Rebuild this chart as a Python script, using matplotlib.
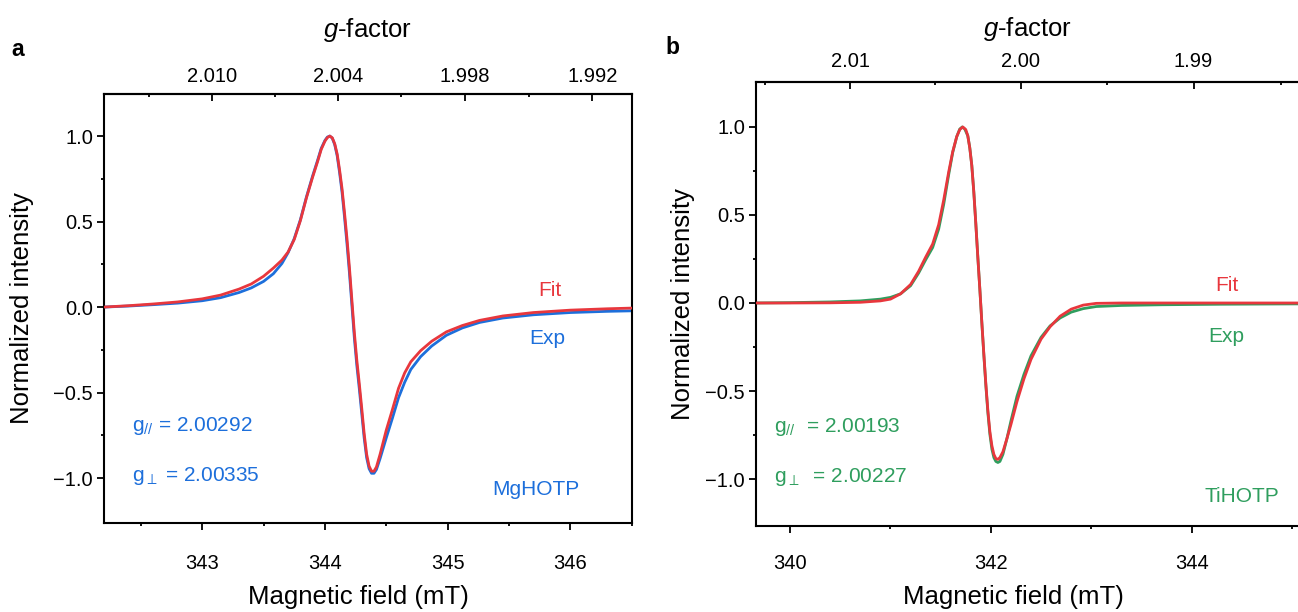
import matplotlib
matplotlib.use("Agg")
import matplotlib.pyplot as plt
from matplotlib.ticker import FixedLocator, FormatStrFormatter, FuncFormatter

plt.rcParams["font.family"] = ["Liberation Sans", "DejaVu Sans"]
plt.rcParams["mathtext.fontset"] = "custom"
plt.rcParams["mathtext.rm"] = "Liberation Sans"
plt.rcParams["mathtext.it"] = "Liberation Sans:italic"

RED = "#E8373D"
BLUE = "#1D6FDB"
GREEN = "#2F9E5E"

# ---- panel a: MgHOTP ----
field_a = [342.20, 342.40, 342.60, 342.80, 343.00, 343.15, 343.30, 343.40, 343.50,
           343.58, 343.65, 343.70, 343.75, 343.80, 343.85, 343.90, 343.94, 343.97,
           344.00, 344.02, 344.04, 344.06, 344.08, 344.10, 344.12, 344.14, 344.16,
           344.18, 344.20, 344.22, 344.24, 344.26, 344.28, 344.30, 344.32, 344.34,
           344.36, 344.38, 344.40, 344.42, 344.45, 344.50, 344.55, 344.60, 344.65,
           344.70, 344.78, 344.87, 344.99, 345.12, 345.26, 345.45, 345.70, 346.00,
           346.30, 346.50]
fit_a = [0.000, 0.008, 0.018, 0.030, 0.048, 0.070, 0.105, 0.135, 0.180,
         0.228, 0.275, 0.322, 0.395, 0.505, 0.640, 0.760, 0.850, 0.922,
         0.970, 0.991, 1.000, 0.990, 0.955, 0.895, 0.800, 0.690, 0.550,
         0.400, 0.230, 0.040, -0.150, -0.310, -0.446, -0.590, -0.740, -0.860,
         -0.930, -0.960, -0.960, -0.935, -0.860, -0.720, -0.600, -0.475, -0.385,
         -0.320, -0.255, -0.200, -0.145, -0.108, -0.078, -0.052, -0.032, -0.018,
         -0.010, -0.006]
exp_a = [0.000, 0.006, 0.014, 0.023, 0.037, 0.055, 0.085, 0.112, 0.150,
         0.195, 0.255, 0.318, 0.400, 0.510, 0.645, 0.767, 0.857, 0.928,
         0.974, 0.994, 1.000, 0.988, 0.950, 0.885, 0.785, 0.670, 0.525,
         0.370, 0.200, 0.010, -0.180, -0.340, -0.475, -0.620, -0.765, -0.880,
         -0.945, -0.972, -0.972, -0.950, -0.885, -0.765, -0.650, -0.530, -0.440,
         -0.365, -0.290, -0.228, -0.165, -0.122, -0.090, -0.064, -0.045, -0.032,
         -0.025, -0.022]

# ---- panel b: TiHOTP ----
field_b_fit = [339.66, 340.00, 340.40, 340.70, 340.90, 341.00, 341.10, 341.20, 341.28,
               341.35, 341.42, 341.48, 341.53, 341.58, 341.62, 341.66, 341.69, 341.72,
               341.75, 341.77, 341.79, 341.81, 341.83, 341.85, 341.87, 341.89, 341.91,
               341.93, 341.95, 341.97, 341.99, 342.01, 342.03, 342.05, 342.07, 342.09,
               342.12, 342.16, 342.20, 342.26, 342.33, 342.40, 342.50, 342.59, 342.69,
               342.80, 342.92, 343.05, 343.30, 345.06]
fit_b = [0.000, 0.000, 0.001, 0.004, 0.012, 0.022, 0.052, 0.105, 0.180,
         0.260, 0.335, 0.445, 0.585, 0.745, 0.860, 0.945, 0.985, 1.000,
         0.985, 0.950, 0.880, 0.780, 0.630, 0.450, 0.260, 0.080, -0.110,
         -0.290, -0.460, -0.610, -0.730, -0.810, -0.860, -0.884, -0.888, -0.878,
         -0.845, -0.770, -0.690, -0.560, -0.430, -0.320, -0.205, -0.135, -0.075,
         -0.035, -0.012, -0.002, 0.000, 0.000]

field_b_exp = [339.66, 340.00, 340.40, 340.70, 340.90, 341.00, 341.10, 341.20, 341.28,
               341.35, 341.42, 341.48, 341.53, 341.58, 341.62, 341.66, 341.69, 341.715,
               341.74, 341.77, 341.79, 341.81, 341.83, 341.85, 341.87, 341.89, 341.91,
               341.93, 341.95, 341.97, 341.99, 342.01, 342.03, 342.05, 342.07, 342.09,
               342.12, 342.16, 342.20, 342.26, 342.33, 342.40, 342.50, 342.59, 342.69,
               342.80, 342.92, 343.05, 343.30, 343.70, 344.30, 345.06]
exp_b = [0.000, 0.002, 0.006, 0.012, 0.022, 0.032, 0.052, 0.098, 0.170,
         0.245, 0.315, 0.420, 0.560, 0.730, 0.855, 0.945, 0.988, 1.000,
         0.988, 0.950, 0.882, 0.782, 0.632, 0.452, 0.262, 0.080, -0.112,
         -0.295, -0.468, -0.622, -0.745, -0.830, -0.878, -0.900, -0.906, -0.900,
         -0.860, -0.770, -0.670, -0.530, -0.405, -0.300, -0.195, -0.130, -0.085,
         -0.052, -0.032, -0.020, -0.014, -0.010, -0.007, -0.005]

# g = C / B (B in mT), constants
C_A = 689.59
C_B = 684.6
g_major_a = [2.010, 2.004, 1.998, 1.992]
g_minor_a = [2.013, 2.007, 2.001, 1.995]
g_major_b = [2.01, 2.00, 1.99]
g_minor_b = [2.015, 2.005, 1.995, 1.985]

W, H = 1298, 612
fig = plt.figure(figsize=(W / 100, H / 100), dpi=100)
ax_a = fig.add_axes([104 / W, 1 - 522.7 / H, 527.7 / W, 428.7 / H])
ax_b = fig.add_axes([756 / W, 1 - 525.7 / H, (W - 756) / W, 444 / H])

TICK_FS = 14.5
LABEL_FS = 18.5


def minus_fmt(v, pos):
    return f"{v:.1f}".replace("-", "\u2212")


def style_axes(ax, xlim, ylim, xmajor, xminor, C, gmajor, gminor, gfmt, bpad, tpad, glpad):
    ax.set_xlim(*xlim)
    ax.set_ylim(*ylim)
    for s in ax.spines.values():
        s.set_linewidth(1.5)
    ax.xaxis.set_major_locator(FixedLocator(xmajor))
    ax.xaxis.set_minor_locator(FixedLocator(xminor))
    ax.yaxis.set_major_locator(FixedLocator([-1.0, -0.5, 0.0, 0.5, 1.0]))
    ax.yaxis.set_minor_locator(FixedLocator([-0.75, -0.25, 0.25, 0.75]))
    ax.yaxis.set_major_formatter(FuncFormatter(minus_fmt))
    ax.tick_params(which="major", direction="out", length=5, width=1.3, labelsize=TICK_FS)
    ax.tick_params(axis="x", which="major", pad=bpad)
    ax.tick_params(axis="y", which="major", pad=3)
    ax.tick_params(which="minor", direction="out", length=2.5, width=1.3)

    # top axis: g-factor of the same field values
    sec = ax.secondary_xaxis("top", functions=(lambda B: C / B, lambda g: C / g))
    sec.spines["top"].set_linewidth(1.5)
    sec.xaxis.set_major_locator(FixedLocator(gmajor))
    sec.xaxis.set_minor_locator(FixedLocator(gminor))
    sec.xaxis.set_major_formatter(FormatStrFormatter(gfmt))
    sec.tick_params(which="major", direction="in", length=5, width=1.3,
                    labelsize=TICK_FS, pad=tpad)
    sec.tick_params(which="minor", direction="in", length=2.5, width=1.3)
    sec.set_xlabel(r"$g$-factor", fontsize=LABEL_FS, labelpad=glpad)

    ax.set_xlabel("Magnetic field (mT)", fontsize=LABEL_FS)
    ax.set_ylabel("Normalized intensity", fontsize=LABEL_FS)
    return sec


sec_a = style_axes(ax_a, (342.2, 346.5), (-1.261, 1.246), [343, 344, 345, 346],
                   [342.5, 343.5, 344.5, 345.5, 346.5], C_A, g_major_a, g_minor_a,
                   "%.3f", 17.5, 6, 21)
sec_b = style_axes(ax_b, (339.66, 345.06), (-1.265, 1.257), [340, 342, 344],
                   [341, 343, 345], C_B, g_major_b, g_minor_b, "%.2f", 15.5, 7.5, 12)
ax_b.spines["right"].set_visible(False)

ax_a.xaxis.set_label_coords((358 - 104) / 527.7, -0.145)
ax_b.xaxis.set_label_coords((1013 - 756) / 542, -0.134)
ax_a.yaxis.set_label_coords(-0.133, 0.5)
ax_b.yaxis.set_label_coords(-0.1125, 0.5)

ax_a.plot(field_a, exp_a, color=BLUE, lw=2.0, zorder=2)
ax_a.plot(field_a, fit_a, color=RED, lw=2.0, zorder=3)
ax_b.plot(field_b_exp, exp_b, color=GREEN, lw=2.0, zorder=2)
ax_b.plot(field_b_fit, fit_b, color=RED, lw=2.0, zorder=3)

fs = 15
ax_a.text(345.83, 0.094, "Fit", color=RED, fontsize=fs, ha="center", va="center")
ax_a.text(345.81, -0.181, "Exp", color=BLUE, fontsize=fs, ha="center", va="center")
ax_a.text(345.72, -1.064, "MgHOTP", color=BLUE, fontsize=fs, ha="center", va="center")
ax_a.text(342.425, -0.727, r"g$_{\mathit{//}}$ = 2.00292", color=BLUE, fontsize=fs,
          ha="left", va="baseline")
ax_a.text(342.425, -1.02, r"g$_{\perp}$ = 2.00335", color=BLUE, fontsize=fs,
          ha="left", va="baseline")

ax_b.text(344.356, 0.102, "Fit", color=RED, fontsize=fs, ha="center", va="center")
ax_b.text(344.35, -0.193, "Exp", color=GREEN, fontsize=fs, ha="center", va="center")
ax_b.text(344.5, -1.10, "TiHOTP", color=GREEN, fontsize=fs, ha="center", va="center")
ax_b.text(339.837, -0.73, r"g$_{\mathit{//}}$  = 2.00193", color=GREEN, fontsize=fs,
          ha="left", va="baseline")
ax_b.text(339.837, -1.018, r"g$_{\perp}$  = 2.00227", color=GREEN, fontsize=fs,
          ha="left", va="baseline")

fig.text(18 / W, 1 - 49 / H, "a", fontsize=16.5, fontweight="bold", ha="center", va="center")
fig.text(672 / W, 1 - 48 / H, "b", fontsize=16.5, fontweight="bold", ha="center", va="center")

fig.savefig("out.png", dpi=100)
